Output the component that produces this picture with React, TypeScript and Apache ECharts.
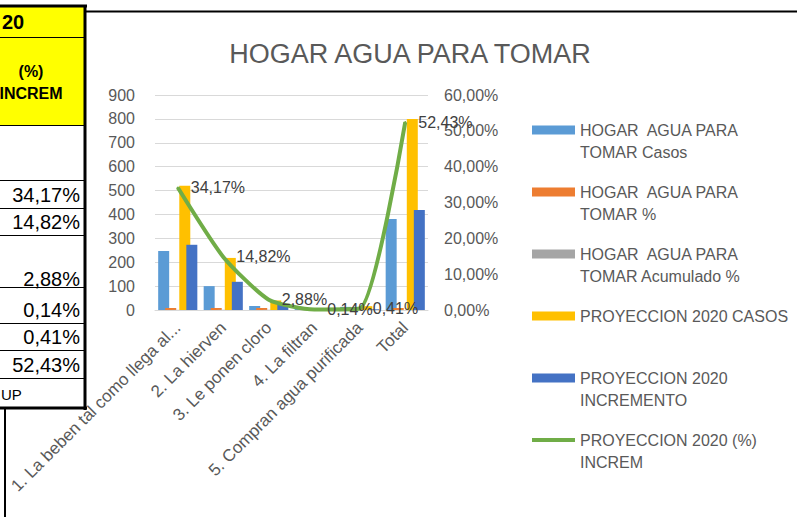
import React, { useEffect, useRef } from "react";
import * as echarts from "echarts";

const categories = [
  "1. La beben tal como llega al...",
  "2. La hierven",
  "3. Le ponen cloro",
  "4. La filtran",
  "5. Compran agua purificada",
  "Total",
];
const casos = [247, 100, 17, 4, 13, 381];
const porcentaje = [0.648, 0.262, 0.045, 0.01, 0.034, 1];
const acumulado = [0.648, 0.911, 0.955, 0.966, 1, 0];
const proyCasos = [520, 218, 40, 5, 16, 800];
const proyIncremento = [273, 118, 23, 1, 3, 419];
const proyPct = [0.3417, 0.1482, 0.0288, 0.0014, 0.0041, 0.5243];

const leftTicks = [0, 100, 200, 300, 400, 500, 600, 700, 800, 900];
const rightTicks = [0, 0.1, 0.2, 0.3, 0.4, 0.5, 0.6];

const tableValues = ["34,17%", "14,82%", "2,88%", "0,14%", "0,41%", "52,43%"];
const tableValueY = [195, 222, 279, 310, 337, 365];
const tableLinesY = [37, 125, 180, 208, 235, 287, 323, 350, 378];

const seriesNames = [
  "HOGAR  AGUA PARA TOMAR Casos",
  "HOGAR  AGUA PARA TOMAR %",
  "HOGAR  AGUA PARA TOMAR Acumulado %",
  "PROYECCION 2020 CASOS",
  "PROYECCION 2020 INCREMENTO",
  "PROYECCION 2020 (%) INCREM",
];
const legendLines = [
  ["HOGAR  AGUA PARA", "TOMAR Casos"],
  ["HOGAR  AGUA PARA", "TOMAR %"],
  ["HOGAR  AGUA PARA", "TOMAR Acumulado %"],
  ["PROYECCION 2020 CASOS"],
  ["PROYECCION 2020", "INCREMENTO"],
  ["PROYECCION 2020 (%)", "INCREM"],
];
const colors = ["#5B9BD5", "#ED7D31", "#A5A5A5", "#FFC000", "#4472C4", "#70AD47"];

const FONT = "'Liberation Sans', Arial, sans-serif";
const pct2 = (v: number) => (v * 100).toFixed(2).replace(".", ",") + "%";

const legendText = (lines: string[]) => {
  if (lines.length === 1) return " \n" + lines[0] + "\n ";
  return " \n" + lines.join("\n");
};

export default function App() {
  const ref = useRef<HTMLDivElement>(null);
  useEffect(() => {
    if (!ref.current) return;
    const chart = echarts.init(ref.current, null, { renderer: "svg" });

    const graphics: any[] = [];
    graphics.push({ type: "rect", shape: { x: 0, y: 7, width: 84, height: 118 }, style: { fill: "#FFFF00" } });
    tableLinesY.forEach((y) =>
      graphics.push({ type: "line", shape: { x1: 0, y1: y + 0.5, x2: 84, y2: y + 0.5 }, style: { stroke: "#000", lineWidth: 1 } })
    );
    graphics.push({ type: "line", shape: { x1: 0, y1: 6, x2: 87, y2: 6 }, style: { stroke: "#000", lineWidth: 3 } });
    graphics.push({ type: "line", shape: { x1: 0, y1: 408, x2: 87, y2: 408 }, style: { stroke: "#000", lineWidth: 3 } });
    graphics.push({ type: "line", shape: { x1: 85, y1: 5, x2: 85, y2: 410 }, style: { stroke: "#000", lineWidth: 3 } });
    graphics.push({ type: "line", shape: { x1: 5, y1: 408, x2: 5, y2: 517 }, style: { stroke: "#000", lineWidth: 2 } });
    graphics.push({ type: "line", shape: { x1: 86, y1: 11.5, x2: 797, y2: 11.5 }, style: { stroke: "#000", lineWidth: 2 } });
    graphics.push({
      type: "text",
      style: { text: "20", x: 2, y: 22, font: `bold 20px ${FONT}`, fill: "#000", textAlign: "left", textVerticalAlign: "middle", align: "left", verticalAlign: "middle" },
    });
    graphics.push({
      type: "text",
      style: { text: "(%)", x: 31, y: 71, font: `bold 16px ${FONT}`, fill: "#000", textAlign: "center", textVerticalAlign: "middle", align: "center", verticalAlign: "middle" },
    });
    graphics.push({
      type: "text",
      style: { text: "INCREM", x: 31, y: 93, font: `bold 16px ${FONT}`, fill: "#000", textAlign: "center", textVerticalAlign: "middle", align: "center", verticalAlign: "middle" },
    });
    tableValues.forEach((t, i) =>
      graphics.push({
        type: "text",
        style: { text: t, x: 80, y: tableValueY[i], font: `20px ${FONT}`, fill: "#000", textAlign: "right", textVerticalAlign: "middle", align: "right", verticalAlign: "middle" },
      })
    );
    graphics.push({
      type: "text",
      style: { text: "UP", x: 1, y: 394, font: `15px ${FONT}`, fill: "#000", textAlign: "left", textVerticalAlign: "middle", align: "left", verticalAlign: "middle" },
    });

    const barBase = (i: number, data: number[], extra: any = {}) => ({
      name: seriesNames[i],
      type: "bar",
      yAxisIndex: 0,
      data,
      barWidth: 11,
      barGap: "-36%",
      itemStyle: { color: colors[i] },
      ...extra,
    });

    const option: any = {
      animation: false,
      backgroundColor: "#FFFFFF",
      title: {
        text: "HOGAR AGUA PARA TOMAR",
        left: 405,
        top: 35,
        textAlign: "center",
        textStyle: { fontFamily: FONT, fontSize: 27, fontWeight: "normal", color: "#595959" },
      },
      grid: { left: 155, right: 369, top: 95, bottom: 207, containLabel: false },
      legend: {
        orient: "vertical",
        left: 530,
        top: 97,
        itemWidth: 43,
        itemHeight: 9,
        itemGap: -4,
        padding: 0,
        textStyle: { fontFamily: FONT, fontSize: 16, color: "#595959", lineHeight: 22 },
        formatter: (name: string) => legendText(legendLines[seriesNames.indexOf(name)]),
        data: seriesNames.map((n, i) => ({
          name: n,
          icon: i === 5 ? undefined : "rect",
          itemStyle: i === 5 ? { opacity: 0 } : undefined,
          lineStyle: i === 5 ? { width: 4, color: colors[5] } : undefined,
        })),
      },
      xAxis: {
        type: "category",
        data: categories,
        axisLine: { lineStyle: { color: "#D9D9D9", width: 1 } },
        axisTick: { show: false },
        axisLabel: { rotate: 45, margin: 15, fontFamily: FONT, fontSize: 17, color: "#595959", interval: 0 },
      },
      yAxis: [
        {
          type: "value",
          min: leftTicks[0],
          max: leftTicks[leftTicks.length - 1],
          interval: 100,
          axisLine: { show: false },
          axisTick: { show: false },
          splitLine: { lineStyle: { color: "#D9D9D9", width: 1 } },
          axisLabel: { margin: 20, fontFamily: FONT, fontSize: 16, color: "#595959" },
        },
        {
          type: "value",
          min: rightTicks[0],
          max: rightTicks[rightTicks.length - 1],
          interval: 0.1,
          axisLine: { show: false },
          axisTick: { show: false },
          splitLine: { show: false },
          axisLabel: { margin: 16, fontFamily: FONT, fontSize: 16, color: "#595959", formatter: (v: number) => pct2(v) },
        },
      ],
      series: [
        barBase(0, casos),
        barBase(1, porcentaje, { barMinHeight: 2 }),
        barBase(2, acumulado),
        barBase(3, proyCasos),
        barBase(4, proyIncremento),
        {
          name: seriesNames[5],
          type: "line",
          yAxisIndex: 1,
          data: proyPct,
          smooth: 0.2,
          symbol: "circle",
          symbolSize: 2,
          itemStyle: { color: colors[5] },
          lineStyle: { color: colors[5], width: 4 },
          label: {
            show: true,
            position: "right",
            distance: 12,
            fontFamily: FONT,
            fontSize: 16,
            color: "#404040",
            formatter: (p: any) => pct2(p.value),
          },
          z: 5,
        },
      ],
      graphic: graphics,
    };
    chart.setOption(option);
    return () => chart.dispose();
  }, []);

  return (
    <div
      ref={ref}
      style={{ position: "absolute", left: 0, top: 0, width: 797, height: 517, background: "#fff" }}
    />
  );
}
